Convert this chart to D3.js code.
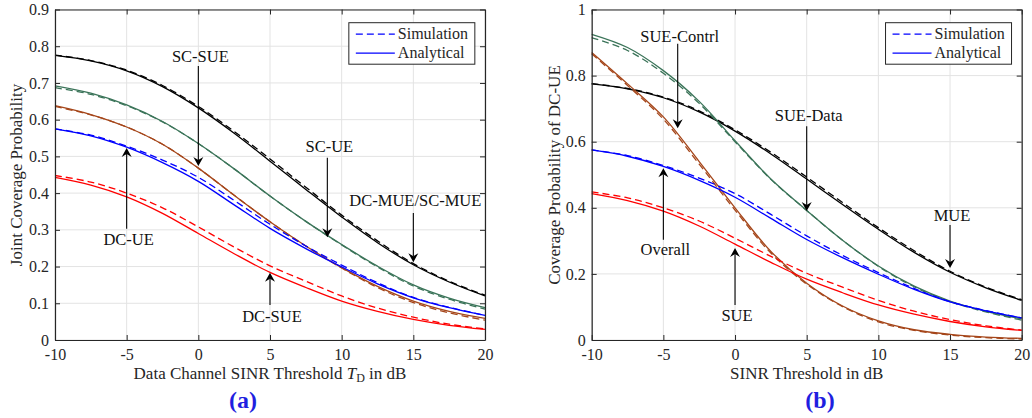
<!DOCTYPE html>
<html>
<head>
<meta charset="utf-8">
<script src="https://cdn.jsdelivr.net/npm/d3@7"></script>
<style>
  body { margin: 0; background: #fff; }
  svg text { font-family: "Liberation Serif", serif; fill: #262626; }
</style>
</head>
<body>
<script>
// x grid of the sampled curves (dB)
var xVals = [-10, -7.5, -5, -2.5, 0, 2.5, 5, 7.5, 10, 12.5, 15, 17.5, 20];
var xTicks = [-10, -5, 0, 5, 10, 15, 20];
var yTicksA = [0, 0.1, 0.2, 0.3, 0.4, 0.5, 0.6, 0.7, 0.8, 0.9];
var yTicksB = [0, 0.2, 0.4, 0.6, 0.8, 1];

// MUE (DC-MUE / SC-MUE)
var mueAna = [0.775, 0.760, 0.733, 0.690, 0.632, 0.563, 0.487, 0.410, 0.335, 0.265, 0.205, 0.158, 0.120];
var mueSim = [0.776, 0.761, 0.735, 0.693, 0.636, 0.568, 0.493, 0.416, 0.340, 0.270, 0.208, 0.160, 0.122];
// SC-UE
var scueAna = [0.692, 0.672, 0.640, 0.595, 0.535, 0.466, 0.392, 0.323, 0.260, 0.201, 0.150, 0.114, 0.088];
var scueSim = [0.687, 0.669, 0.638, 0.594, 0.535, 0.466, 0.392, 0.323, 0.259, 0.199, 0.147, 0.111, 0.084];
// SC-SUE
var scsueAna = [0.638, 0.614, 0.580, 0.533, 0.468, 0.394, 0.322, 0.256, 0.197, 0.146, 0.106, 0.078, 0.059];
var scsueSim = [0.636, 0.613, 0.580, 0.533, 0.468, 0.394, 0.322, 0.256, 0.196, 0.143, 0.102, 0.074, 0.054];
// DC-UE (overall)
var dcueAna = [0.575, 0.556, 0.525, 0.483, 0.432, 0.368, 0.304, 0.249, 0.199, 0.153, 0.115, 0.088, 0.067];
var dcueSim = [0.575, 0.558, 0.528, 0.490, 0.443, 0.380, 0.315, 0.256, 0.204, 0.156, 0.116, 0.089, 0.067];
// DC-SUE
var dcsueAna = [0.443, 0.422, 0.390, 0.345, 0.290, 0.235, 0.184, 0.143, 0.106, 0.078, 0.056, 0.040, 0.029];
var dcsueSim = [0.448, 0.430, 0.400, 0.360, 0.308, 0.253, 0.202, 0.160, 0.120, 0.087, 0.062, 0.043, 0.030];
// SUE data channel (panel b)
var sueDataAna = [0.925, 0.885, 0.815, 0.722, 0.603, 0.487, 0.392, 0.302, 0.224, 0.163, 0.118, 0.087, 0.064];
var sueDataSim = [0.915, 0.876, 0.807, 0.716, 0.600, 0.486, 0.392, 0.302, 0.223, 0.161, 0.116, 0.085, 0.060];
// SUE control channel (panel b)
var sueCtrlAna = [0.870, 0.775, 0.675, 0.540, 0.400, 0.268, 0.172, 0.103, 0.058, 0.031, 0.017, 0.009, 0.005];
var sueCtrlSim = [0.866, 0.770, 0.668, 0.532, 0.393, 0.263, 0.169, 0.101, 0.055, 0.029, 0.015, 0.007, 0.003];

var cBlack = "#000000", cGreen = "#3b7459", cBrown = "#a5461a", cBlue = "#0000ff", cRed = "#ff0000";

var svg = d3.select("body").append("svg")
    .attr("width", 1032)
    .attr("height", 418);

function drawPanel(opt) {
    var x = d3.scaleLinear().domain([-10, 20]).range([opt.left, opt.right]);
    var y = d3.scaleLinear().domain([0, opt.ymax]).range([340, 9.5]);
    var g = svg.append("g");

    // grid
    g.selectAll(".gx").data(xTicks).enter().append("line")
        .attr("x1", d => x(d)).attr("x2", d => x(d))
        .attr("y1", y(0)).attr("y2", y(opt.ymax))
        .attr("stroke", "#e3e3e3").attr("stroke-width", 1);
    g.selectAll(".gy").data(opt.yTicks).enter().append("line")
        .attr("y1", d => y(d)).attr("y2", d => y(d))
        .attr("x1", opt.left).attr("x2", opt.right)
        .attr("stroke", "#e3e3e3").attr("stroke-width", 1);

    // curves
    var line = d3.line()
        .x((d, i) => x(xVals[i]))
        .y(d => y(d))
        .curve(d3.curveCatmullRom.alpha(0.5));
    opt.series.forEach(function(s) {
        g.append("path")
            .attr("d", line(s.sim))
            .attr("fill", "none")
            .attr("stroke", s.color)
            .attr("stroke-width", 1.3)
            .attr("stroke-dasharray", "7,4");
        g.append("path")
            .attr("d", line(s.ana))
            .attr("fill", "none")
            .attr("stroke", s.color)
            .attr("stroke-width", 1.3);
    });

    // axes box with inward ticks
    var axisCol = "#262626";
    var bottom = d3.axisBottom(x).tickValues(xTicks).tickSizeInner(-5).tickSizeOuter(0).tickPadding(9)
        .tickFormat(d => String(d));
    var top = d3.axisTop(x).tickValues(xTicks).tickSizeInner(-5).tickSizeOuter(0).tickFormat("");
    var leftAx = d3.axisLeft(y).tickValues(opt.yTicks).tickSizeInner(-5).tickSizeOuter(0).tickPadding(6)
        .tickFormat(d => d === 0 || d === 1 ? String(d) : d3.format(".1f")(d));
    var rightAx = d3.axisRight(y).tickValues(opt.yTicks).tickSizeInner(-5).tickSizeOuter(0).tickFormat("");

    [[bottom, "translate(0,340)"], [top, "translate(0,9.5)"],
     [leftAx, "translate(" + opt.left + ",0)"], [rightAx, "translate(" + opt.right + ",0)"]].forEach(function(a) {
        var ag = g.append("g").attr("transform", a[1]).call(a[0]);
        ag.select(".domain").attr("stroke", axisCol).attr("stroke-width", 1.2);
        ag.selectAll(".tick line").attr("stroke", axisCol);
        ag.selectAll(".tick text").attr("font-size", 16).attr("font-family", "Liberation Serif").attr("fill", axisCol);
    });

    // axis titles
    var xt = g.append("text")
        .attr("x", (opt.left + opt.right) / 2).attr("y", 379)
        .attr("text-anchor", "middle").attr("font-size", 17);
    xt.append("tspan").text(opt.xTitle);
    if (opt.sub) {
        xt.append("tspan").attr("font-style", "italic").text(" T");
        xt.append("tspan").attr("font-size", 12).attr("dy", 3).text("D");
        xt.append("tspan").attr("dy", -3).text(" in dB");
    }
    g.append("text")
        .attr("transform", "translate(" + opt.yTitleX + "," + 175 + ") rotate(-90)")
        .attr("text-anchor", "middle").attr("font-size", 17)
        .text(opt.yTitle);

    // panel tag
    g.append("text")
        .attr("x", opt.tagX).attr("y", 408)
        .attr("text-anchor", "middle")
        .attr("font-size", 24).attr("font-weight", "bold")
        .style("fill", "#1f1fe0")
        .text(opt.tag);

    // legend
    var lx = x(opt.legendX), ly = 22.7;
    g.append("rect").attr("x", lx).attr("y", ly).attr("width", 126).attr("height", 41.5)
        .attr("fill", "#fff").attr("stroke", axisCol).attr("stroke-width", 1);
    [["Simulation", "7,4"], ["Analytical", null]].forEach(function(l, i) {
        var yy = ly + 11.5 + i * 19;
        g.append("line").attr("x1", lx + 7).attr("x2", lx + 46).attr("y1", yy).attr("y2", yy)
            .attr("stroke", cBlue).attr("stroke-width", 1.3)
            .attr("stroke-dasharray", l[1]);
        g.append("text").attr("x", lx + 49).attr("y", yy + 5).attr("font-size", 16).text(l[0]);
    });

    // annotations with arrows
    opt.notes.forEach(function(n) {
        var px = x(n.x), tail = y(n.tail), tip = y(n.tip);
        var dir = tip > tail ? 1 : -1;
        g.append("line").attr("x1", px).attr("x2", px)
            .attr("y1", tail).attr("y2", tip - dir * 6)
            .attr("stroke", "#000").attr("stroke-width", 1.1);
        g.append("path")
            .attr("d", "M" + px + "," + tip +
                " L" + (px - 5) + "," + (tip - dir * 9) +
                " L" + px + "," + (tip - dir * 6) +
                " L" + (px + 5) + "," + (tip - dir * 9) + " Z")
            .attr("fill", "#000");
        g.append("text").attr("x", px + 2).attr("y", y(n.text) + 5.5)
            .attr("text-anchor", "middle").attr("font-size", 16.5).style("fill", "#111")
            .text(n.label);
    });
}

drawPanel({
    left: 55, right: 485, ymax: 0.9, yTicks: yTicksA,
    xTitle: "Data Channel SINR Threshold", sub: true,
    yTitle: "Joint Coverage Probability", yTitleX: 22,
    tag: "(a)", tagX: 243, legendX: 10.5,
    series: [
        { ana: mueAna, sim: mueSim, color: cBlack },
        { ana: scueAna, sim: scueSim, color: cGreen },
        { ana: scsueAna, sim: scsueSim, color: cBrown },
        { ana: dcueAna, sim: dcueSim, color: cBlue },
        { ana: dcsueAna, sim: dcsueSim, color: cRed }
    ],
    notes: [
        { label: "SC-SUE", x: 0, text: 0.773, tail: 0.746, tip: 0.474 },
        { label: "SC-UE", x: 9, text: 0.526, tail: 0.496, tip: 0.28 },
        { label: "DC-MUE/SC-MUE", x: 15, text: 0.379, tail: 0.346, tip: 0.212 },
        { label: "DC-UE", x: -5, text: 0.275, tail: 0.303, tip: 0.523 },
        { label: "DC-SUE", x: 5, text: 0.065, tail: 0.095, tip: 0.183 }
    ]
});

drawPanel({
    left: 591.7, right: 1021.7, ymax: 1, yTicks: yTicksB,
    xTitle: "SINR Threshold in dB", sub: false,
    yTitle: "Coverage Probability of DC-UE", yTitleX: 560,
    tag: "(b)", tagX: 820, legendX: 10.5,
    series: [
        { ana: mueAna, sim: mueSim, color: cBlack },
        { ana: sueDataAna, sim: sueDataSim, color: cGreen },
        { ana: sueCtrlAna, sim: sueCtrlSim, color: cBrown },
        { ana: dcueAna, sim: dcueSim, color: cBlue },
        { ana: dcsueAna, sim: dcsueSim, color: cRed }
    ],
    notes: [
        { label: "SUE-Contrl", x: -4, text: 0.917, tail: 0.896, tip: 0.641 },
        { label: "SUE-Data", x: 5, text: 0.678, tail: 0.647, tip: 0.39 },
        { label: "MUE", x: 15, text: 0.378, tail: 0.348, tip: 0.218 },
        { label: "Overall", x: -5, text: 0.275, tail: 0.303, tip: 0.52 },
        { label: "SUE", x: 0, text: 0.073, tail: 0.106, tip: 0.278 }
    ]
});
</script>
</body>
</html>
